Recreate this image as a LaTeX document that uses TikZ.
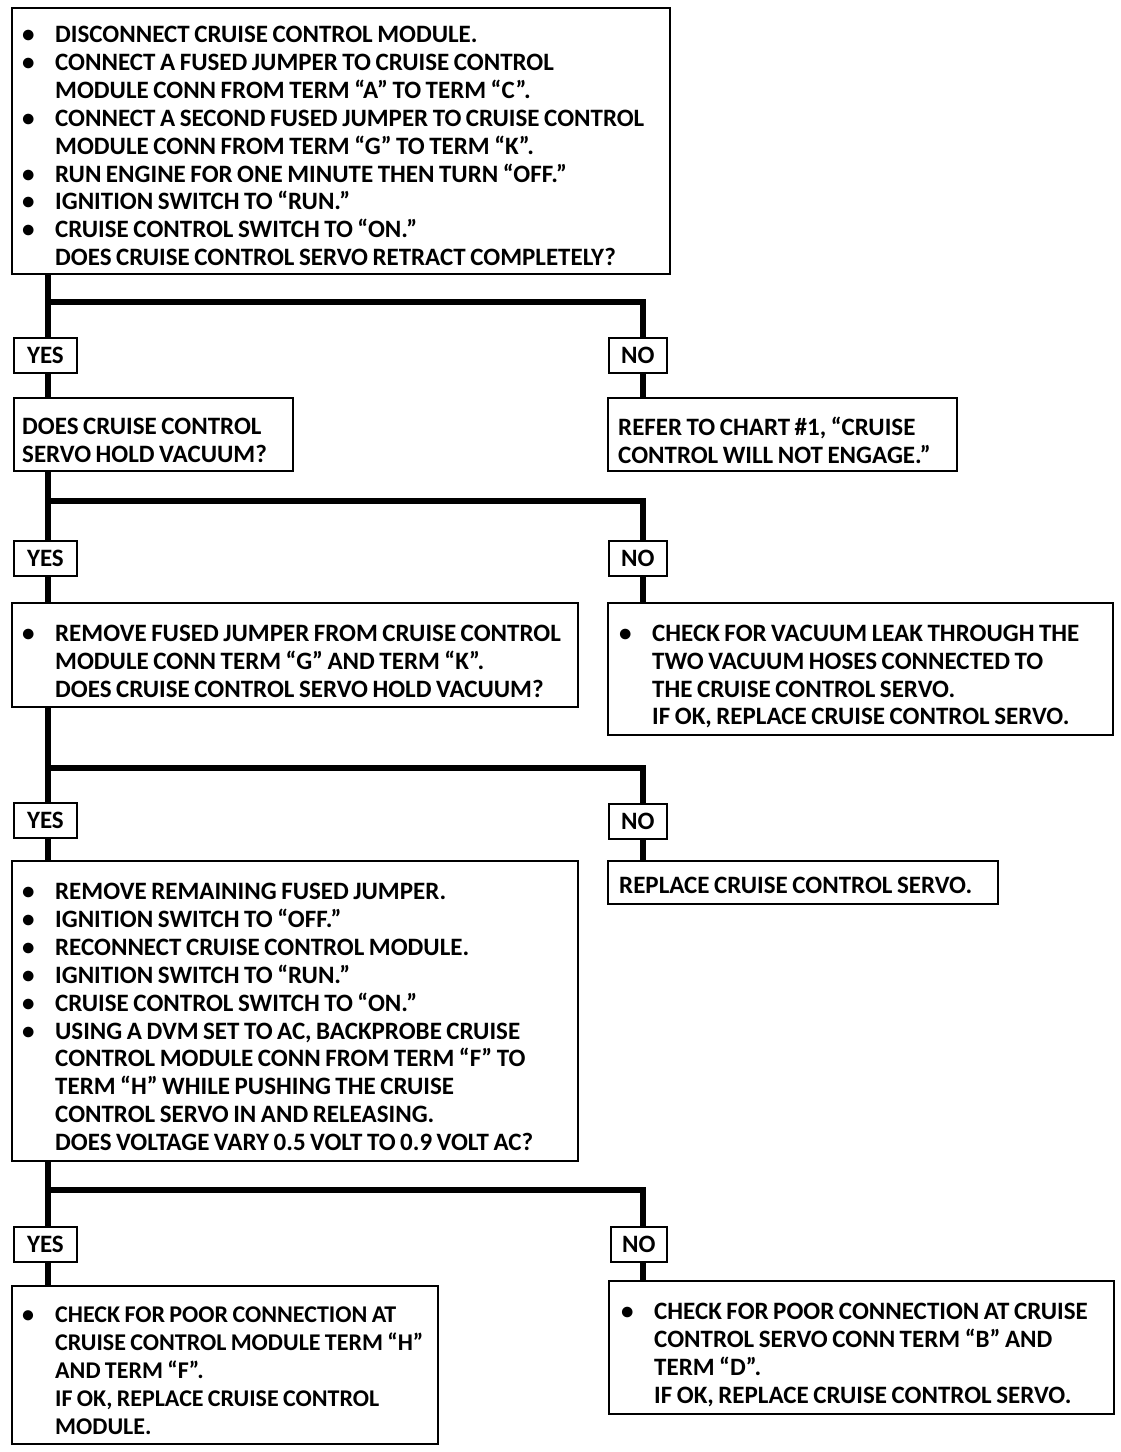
\documentclass[tikz,border=0pt]{standalone}
\usepackage{fontspec}
\setmainfont[WordSpace=0.8]{Carlito}
\newcommand\mainf{\fontsize{25}{27.9}\selectfont\bfseries}
\newcommand\smallf{\fontsize{24}{27.9}\selectfont\bfseries}
\newcommand\bl[1][33pt]{\makebox[#1][l]{\textbullet}}
\newcommand\ind[1][33pt]{\hspace*{#1}}
\tikzset{
  frame/.style={draw, line width=1.8pt, anchor=north west, inner sep=0pt},
  txt/.style={anchor=west, inner sep=0pt, align=left, font=\mainf, text depth=0pt},
  yn/.style={frame, minimum height=35pt, align=center, font=\mainf},
  trunk/.style={line width=6pt}
}
\begin{document}
\begin{tikzpicture}[x=1pt,y=-1pt]
\useasboundingbox (0,0) rectangle (1120,1452);
\fill[white] (0,0) rectangle (1120,1452);
% junction coordinates
\coordinate (jl1) at (48,302);  \coordinate (jr1) at (643,302);
\coordinate (jl2) at (48,501);  \coordinate (jr2) at (643,501);
\coordinate (jl3) at (48,768);  \coordinate (jr3) at (643,768);
\coordinate (jl4) at (48,1190); \coordinate (jr4) at (643,1190);

% ---- level 1
\node[frame, minimum width=658pt, minimum height=266pt] (b1) at (11,7) {};
\node[txt] (t1) at ([xshift=11pt,yshift=-5pt]b1.west)
{\bl DISCONNECT CRUISE CONTROL MODULE.\\
 \bl CONNECT A FUSED JUMPER TO CRUISE CONTROL\\
 \ind MODULE CONN FROM TERM “A” TO TERM “C”.\\
 \bl CONNECT A SECOND FUSED JUMPER TO CRUISE CONTROL\\
 \ind MODULE CONN FROM TERM “G” TO TERM “K”.\\
 \bl RUN ENGINE FOR ONE MINUTE THEN TURN “OFF.”\\
 \bl IGNITION SWITCH TO “RUN.”\\
 \bl CRUISE CONTROL SWITCH TO “ON.”\\
 \ind DOES CRUISE CONTROL SERVO RETRACT COMPLETELY?};

\node[yn, minimum width=63pt] (y1) at (13,337) {YES};
\node[yn, minimum width=58pt] (n1) at (608,337) {NO};

% ---- level 2
\node[frame, minimum width=279pt, minimum height=73pt] (b2) at (13,397) {};
\node[txt] (t2) at ([xshift=9pt,yshift=-6pt]b2.west)
{DOES CRUISE CONTROL\\ SERVO HOLD VACUUM?};
\node[frame, minimum width=349pt, minimum height=73pt] (b3) at (607,397) {};
\node[txt] (t3) at ([xshift=11pt,yshift=-6pt]b3.west)
{REFER TO CHART \#1, “CRUISE\\ CONTROL WILL NOT ENGAGE.”};

\node[yn, minimum width=63pt] (y2) at (13,540) {YES};
\node[yn, minimum width=58pt] (n2) at (608,540) {NO};

% ---- level 3
\node[frame, minimum width=566pt, minimum height=104pt] (b4) at (11,602) {};
\node[txt] (t4) at ([xshift=11pt,yshift=-6pt]b4.west)
{\bl REMOVE FUSED JUMPER FROM CRUISE CONTROL\\
 \ind MODULE CONN TERM “G” AND TERM “K”.\\
 \ind DOES CRUISE CONTROL SERVO HOLD VACUUM?};
\node[frame, minimum width=505pt, minimum height=132pt] (b5) at (607,602) {};
\node[txt] (t5) at ([xshift=12pt,yshift=-6pt]b5.west)
{\bl CHECK FOR VACUUM LEAK THROUGH THE\\
 \ind TWO VACUUM HOSES CONNECTED TO\\
 \ind THE CRUISE CONTROL SERVO.\\
 \ind IF OK, REPLACE CRUISE CONTROL SERVO.};

\node[yn, minimum width=63pt] (y3) at (13,802) {YES};
\node[yn, minimum width=58pt] (n3) at (608,803) {NO};

% ---- level 4
\node[frame, minimum width=566pt, minimum height=300pt] (b6) at (11,860) {};
\node[txt] (t6) at ([xshift=11pt,yshift=-6pt]b6.west)
{\bl REMOVE REMAINING FUSED JUMPER.\\
 \bl IGNITION SWITCH TO “OFF.”\\
 \bl RECONNECT CRUISE CONTROL MODULE.\\
 \bl IGNITION SWITCH TO “RUN.”\\
 \bl CRUISE CONTROL SWITCH TO “ON.”\\
 \bl USING A DVM SET TO AC, BACKPROBE CRUISE\\
 \ind CONTROL MODULE CONN FROM TERM “F” TO\\
 \ind TERM “H” WHILE PUSHING THE CRUISE\\
 \ind CONTROL SERVO IN AND RELEASING.\\
 \ind DOES VOLTAGE VARY 0.5 VOLT TO 0.9 VOLT AC?};
\node[frame, minimum width=390pt, minimum height=43pt] (b7) at (607,860) {};
\node[txt] (t7) at ([xshift=12pt,yshift=-3pt]b7.west)
{REPLACE CRUISE CONTROL SERVO.};

\node[yn, minimum width=63pt] (y4) at (13,1226) {YES};
\node[yn, minimum width=56pt] (n4) at (610,1226) {NO};

% ---- level 5
\node[frame, minimum width=426pt, minimum height=158pt] (b8) at (11,1285) {};
\node[txt, font=\smallf] (t8) at ([xshift=11pt,yshift=-6pt]b8.west)
{\bl CHECK FOR POOR CONNECTION AT\\
 \ind CRUISE CONTROL MODULE TERM “H”\\
 \ind AND TERM “F”.\\
 \ind IF OK, REPLACE CRUISE CONTROL\\
 \ind MODULE.};
\node[frame, minimum width=505pt, minimum height=133pt] (b9) at (608,1280) {};
\node[txt] (t9) at ([xshift=13pt,yshift=-6pt]b9.west)
{\bl CHECK FOR POOR CONNECTION AT CRUISE\\
 \ind CONTROL SERVO CONN TERM “B” AND\\
 \ind TERM “D”.\\
 \ind IF OK, REPLACE CRUISE CONTROL SERVO.};

% connectors
\begin{scope}[trunk]
\draw (b1.south -| jl1) -- (y1.north -| jl1);
\draw (jl1) -- (jr1) -- (n1.north -| jr1);
\draw (y1.south -| jl1) -- (b2.north -| jl1);
\draw (n1.south -| jr1) -- (b3.north -| jr1);

\draw (b2.south -| jl2) -- (y2.north -| jl2);
\draw (jl2) -- (jr2) -- (n2.north -| jr2);
\draw (y2.south -| jl2) -- (b4.north -| jl2);
\draw (n2.south -| jr2) -- (b5.north -| jr2);

\draw (b4.south -| jl3) -- (y3.north -| jl3);
\draw (jl3) -- (jr3) -- (n3.north -| jr3);
\draw (y3.south -| jl3) -- (b6.north -| jl3);
\draw (n3.south -| jr3) -- (b7.north -| jr3);

\draw (b6.south -| jl4) -- (y4.north -| jl4);
\draw (jl4) -- (jr4) -- (n4.north -| jr4);
\draw (y4.south -| jl4) -- (b8.north -| jl4);
\draw (n4.south -| jr4) -- (b9.north -| jr4);
\end{scope}
\end{tikzpicture}
\end{document}
